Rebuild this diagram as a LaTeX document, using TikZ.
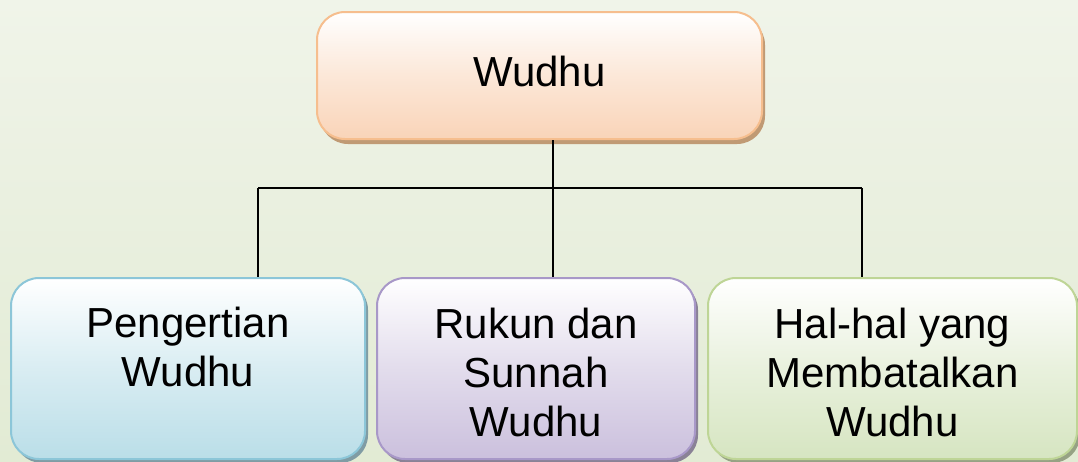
\documentclass[tikz,border=0pt]{standalone}
\usepackage{fontspec}
\setmainfont{Liberation Sans}
\usetikzlibrary{shadows}
\definecolor{bgA}{RGB}{240,244,233}
\definecolor{bgB}{RGB}{226,235,212}
\definecolor{orgF}{RGB}{249,212,184}
\definecolor{orgD}{RGB}{246,190,142}
\definecolor{orgS}{RGB}{192,154,116}
\definecolor{bluF}{RGB}{186,222,232}
\definecolor{bluD}{RGB}{140,198,216}
\definecolor{bluS}{RGB}{128,156,164}
\definecolor{vioF}{RGB}{203,192,221}
\definecolor{vioD}{RGB}{168,152,200}
\definecolor{vioS}{RGB}{138,130,150}
\definecolor{grnF}{RGB}{214,229,193}
\definecolor{grnD}{RGB}{190,213,150}
\definecolor{grnS}{RGB}{150,162,132}
\begin{document}
\begin{tikzpicture}[x=1pt,y=-1pt,
  boxbase/.style={rectangle, rounded corners=28pt, line width=2pt, inner sep=0pt},
  topbox/.style={boxbase, draw=orgD, top color=white, bottom color=orgF, middle color=orgF!55!white,
     drop shadow={shadow xshift=3pt, shadow yshift=-5pt, fill=orgS, opacity=1}},
  bluebox/.style={boxbase, draw=bluD, top color=white, bottom color=bluF, middle color=bluF!55!white,
     drop shadow={shadow xshift=3pt, shadow yshift=-4pt, fill=bluS, opacity=1}},
  violetbox/.style={boxbase, draw=vioD, top color=white, bottom color=vioF, middle color=vioF!55!white,
     drop shadow={shadow xshift=3pt, shadow yshift=-4pt, fill=vioS, opacity=1}},
  greenbox/.style={boxbase, draw=grnD, top color=white, bottom color=grnF, middle color=grnF!55!white,
     drop shadow={shadow xshift=3pt, shadow yshift=-4pt, fill=grnS, opacity=1}},
  lbl/.style={align=center, anchor=base, inner sep=0pt, font=\fontsize{42}{49}\selectfont, text=black},
  conn/.style={line width=1.5pt, draw=black}
]
\useasboundingbox (0,0) rectangle (1078,461);
\shade[top color=bgA, bottom color=bgB] (0,0) rectangle (1078,461);

\node[topbox, minimum width=445pt, minimum height=127pt] (top) at (539.5,75.5) {};
\node[bluebox, minimum width=354pt, minimum height=181pt] (left) at (188,368.5) {};
\node[violetbox, minimum width=318pt, minimum height=181pt] (mid) at (536,368.5) {};
\node[greenbox, minimum width=369pt, minimum height=181pt] (right) at (892.5,368.5) {};

\coordinate (c1) at (258,188);
\coordinate (c2) at (553,188);
\coordinate (c3) at (862,188);
\draw[conn] (c2 |- top.south) -- (c2);
\draw[conn] (c1) -- (c3);
\draw[conn] (c1) -- (c1 |- left.north);
\draw[conn] (c2) -- (c2 |- mid.north);
\draw[conn] (c3) -- (c3 |- right.north);

\node[lbl] (ttop) at (539.5,86) {Wudhu};
\node[lbl] (tleft) at (188,386) {Pengertian\\Wudhu};
\node[lbl] (tmid) at (536,436) {Rukun dan\\Sunnah\\Wudhu};
\node[lbl] (tright) at (892.5,436) {Hal-hal yang\\Membatalkan\\Wudhu};
\end{tikzpicture}
\end{document}
